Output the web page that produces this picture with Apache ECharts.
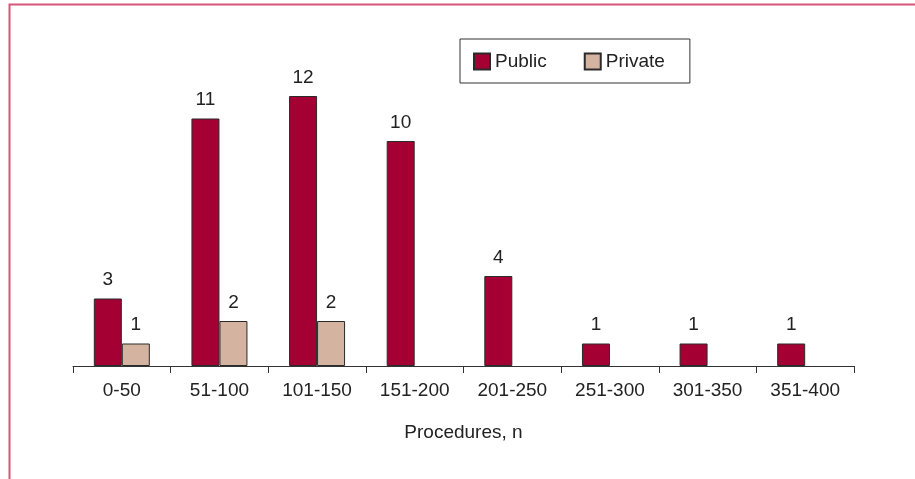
<!DOCTYPE html>
<html>
<head>
<meta charset="utf-8">
<script src="https://cdn.jsdelivr.net/npm/echarts@6/dist/echarts.min.js"></script>
<style>
body { margin: 0; background: #fff; }
#chart { width: 915px; height: 479px; }
</style>
</head>
<body>
<div id="chart"></div>
<script>
// data
var categories = ['0-50', '51-100', '101-150', '151-200', '201-250', '251-300', '301-350', '351-400'];
var publicValues = [3, 11, 12, 10, 4, 1, 1, 1];
var privateValues = [1, 2, 2, null, null, null, null, null];

var font = '"Liberation Sans Narrow", "Arial Narrow", "Liberation Sans", sans-serif';

var chart = echarts.init(document.getElementById('chart'));
chart.setOption({
  animation: false,
  textStyle: { fontFamily: font },
  graphic: [
    {
      type: 'polyline',
      shape: { points: [[9.5, 479], [9.5, 4.5], [915, 4.5]] },
      style: { stroke: '#d6577a', lineWidth: 2, fill: null }
    }
  ],
  legend: {
    data: ['Public', 'Private'],
    left: 460,
    top: 39,
    orient: 'horizontal',
    icon: 'rect',
    itemWidth: 16,
    itemHeight: 16,
    itemGap: 37,
    padding: [13, 25, 12, 13],
    borderColor: '#333',
    borderWidth: 1,
    textStyle: { fontSize: 19, color: '#222', fontFamily: font }
  },
  grid: { left: 73, right: 61, top: 96, bottom: 113 },
  xAxis: {
    type: 'category',
    data: categories,
    name: 'Procedures, n',
    nameLocation: 'middle',
    nameGap: 57,
    nameTextStyle: { fontSize: 19, color: '#222', fontFamily: font },
    axisLine: { lineStyle: { color: '#333', width: 1 } },
    axisTick: { show: true, length: 7, lineStyle: { color: '#333' } },
    axisLabel: { fontSize: 19, color: '#222', margin: 15, fontFamily: font }
  },
  yAxis: {
    type: 'value',
    min: 0,
    max: 12,
    show: false,
    splitLine: { show: false }
  },
  series: [
    {
      name: 'Public',
      type: 'bar',
      data: publicValues,
      barWidth: 28,
      barGap: '0%',
      itemStyle: { color: '#a50034', borderColor: '#2a2a2a', borderWidth: 1 },
      label: { show: true, position: 'top', distance: 9, fontSize: 19, color: '#222', fontFamily: font }
    },
    {
      name: 'Private',
      type: 'bar',
      data: privateValues,
      barWidth: 28,
      itemStyle: { color: '#d4b4a0', borderColor: '#2a2a2a', borderWidth: 1 },
      label: { show: true, position: 'top', distance: 9, fontSize: 19, color: '#222', fontFamily: font }
    }
  ]
});
</script>
</body>
</html>
